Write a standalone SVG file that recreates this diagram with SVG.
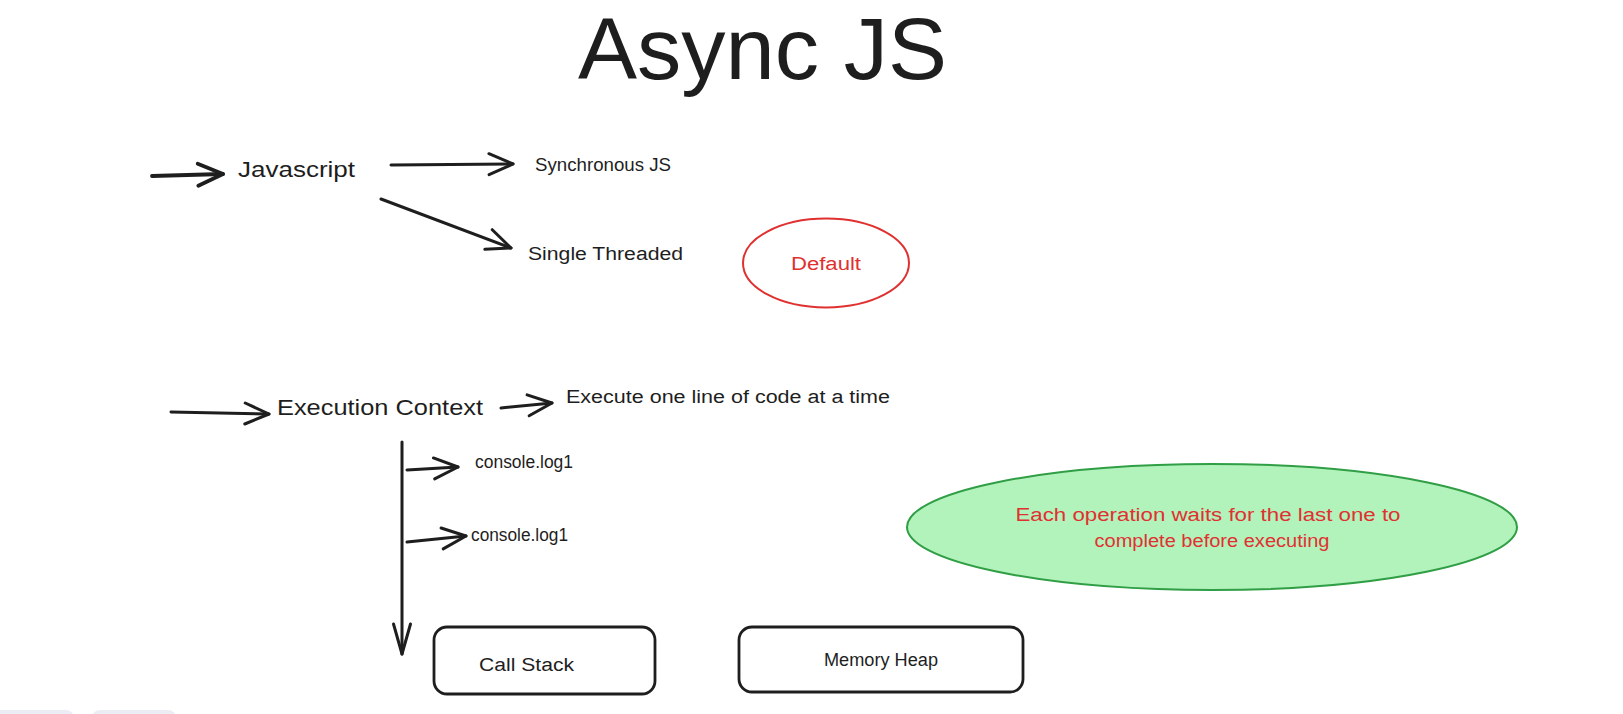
<svg xmlns="http://www.w3.org/2000/svg" width="1623" height="714" viewBox="0 0 1623 714">
<style>
  text { font-family: "Liberation Sans", Arial, sans-serif; fill: #1e1e1e; }
  .title { font-size: 88px; }
  .big { font-size: 22px; }
  .sm { font-size: 18px; }
  .red { fill: #e03131; }
  .conn { fill: none; stroke: #1e1e1e; stroke-width: 3; stroke-linecap: round; stroke-linejoin: round; }
  .thick { stroke-width: 3.8; }
  .box { fill: #ffffff; stroke: #1e1e1e; stroke-width: 2.8; }
  .ui { fill: #ececf4; }
</style>
<defs>
  <marker id="ah" viewBox="-28 -14 32 28" refX="0" refY="0" markerWidth="32" markerHeight="28" markerUnits="userSpaceOnUse" orient="auto">
    <path d="M-24,-10.5 L0,0 L-24,10.5" fill="none" stroke="#1e1e1e" stroke-width="3" stroke-linecap="round" stroke-linejoin="round"/>
  </marker>
  <marker id="ahThick" viewBox="-30 -15 34 30" refX="0" refY="0" markerWidth="34" markerHeight="30" markerUnits="userSpaceOnUse" orient="auto">
    <path d="M-25,-11 L0,0 L-25,11" fill="none" stroke="#1e1e1e" stroke-width="3.8" stroke-linecap="round" stroke-linejoin="round"/>
  </marker>
  <marker id="ahLong" viewBox="-34 -12 38 24" refX="0" refY="0" markerWidth="38" markerHeight="24" markerUnits="userSpaceOnUse" orient="auto">
    <path d="M-30,-8.5 L0,0 L-30,8.5" fill="none" stroke="#1e1e1e" stroke-width="3" stroke-linecap="round" stroke-linejoin="round"/>
  </marker>
</defs>
<rect width="1623" height="714" fill="#ffffff"/>

<g id="title">
  <text class="title" x="578" y="79" textLength="369" lengthAdjust="spacingAndGlyphs">Async JS</text>
</g>

<g id="javascript">
  <text class="big" x="238" y="177" textLength="117" lengthAdjust="spacingAndGlyphs">Javascript</text>
</g>
<g id="synchronous-js">
  <text class="sm" x="535" y="171" textLength="136" lengthAdjust="spacingAndGlyphs">Synchronous JS</text>
</g>
<g id="single-threaded">
  <text class="sm" x="528" y="260" textLength="155" lengthAdjust="spacingAndGlyphs">Single Threaded</text>
</g>
<g id="default">
  <ellipse cx="826" cy="263" rx="83" ry="44.5" fill="none" stroke="#e03131" stroke-width="2"/>
  <text class="sm red" x="826" y="270" text-anchor="middle" textLength="70" lengthAdjust="spacingAndGlyphs">Default</text>
</g>

<g id="execution-context">
  <text class="big" x="277" y="415" textLength="206" lengthAdjust="spacingAndGlyphs">Execution Context</text>
</g>
<g id="execute-one-line">
  <text class="sm" x="566" y="403" textLength="324" lengthAdjust="spacingAndGlyphs">Execute one line of code at a time</text>
</g>
<g id="console-log-1">
  <text class="sm" x="475" y="468" textLength="98" lengthAdjust="spacingAndGlyphs">console.log1</text>
</g>
<g id="console-log-2">
  <text class="sm" x="471" y="541" textLength="97" lengthAdjust="spacingAndGlyphs">console.log1</text>
</g>

<g id="wait-note">
  <ellipse cx="1212" cy="527" rx="305" ry="63" fill="#b2f2bb" stroke="#2f9e44" stroke-width="2"/>
  <text class="sm red" x="1208" y="521" text-anchor="middle" textLength="385" lengthAdjust="spacingAndGlyphs">Each operation waits for the last one to</text>
  <text class="sm red" x="1212" y="547" text-anchor="middle" textLength="235" lengthAdjust="spacingAndGlyphs">complete before executing</text>
</g>

<g id="call-stack">
  <rect class="box" x="434" y="627" width="221" height="67" rx="13"/>
  <text class="sm" x="479" y="671" textLength="95" lengthAdjust="spacingAndGlyphs">Call Stack</text>
</g>
<g id="memory-heap">
  <rect class="box" x="739" y="627" width="284" height="65" rx="13"/>
  <text class="sm" x="824" y="666" textLength="114" lengthAdjust="spacingAndGlyphs">Memory Heap</text>
</g>

<g id="connectors">
  <path class="conn thick" d="M152,176 L223,174" marker-end="url(#ahThick)"/>
  <path class="conn" d="M391,165 L513,164" marker-end="url(#ah)"/>
  <path class="conn" d="M381,199 L511,248" marker-end="url(#ah)"/>
  <path class="conn" d="M171,412 L269,414" marker-end="url(#ah)"/>
  <path class="conn" d="M501,408 L552,403" marker-end="url(#ah)"/>
  <path class="conn" d="M402,442 L402,654" marker-end="url(#ahLong)"/>
  <path class="conn" d="M407,470 L458,467" marker-end="url(#ah)"/>
  <path class="conn" d="M407,542 L466,536" marker-end="url(#ah)"/>
</g>

<g id="ui-fragments">
  <rect class="ui" x="-10" y="710" width="84" height="20" rx="8"/>
  <rect class="ui" x="92" y="710" width="84" height="20" rx="8"/>
</g>
</svg>
